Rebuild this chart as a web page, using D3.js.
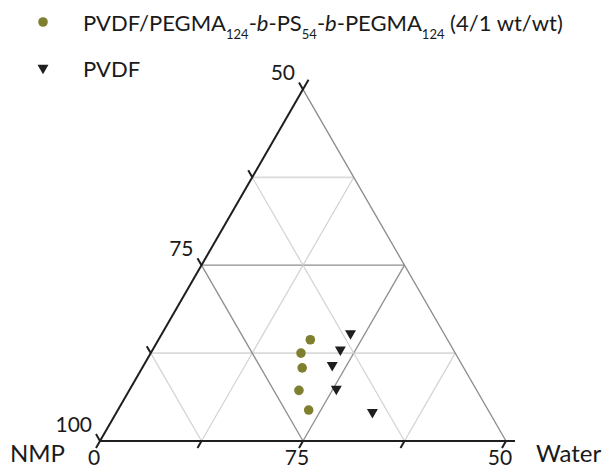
<!DOCTYPE html>
<html>
<head>
<meta charset="utf-8">
<script src="https://cdn.jsdelivr.net/npm/d3@7"></script>
<style>
  html, body { margin: 0; padding: 0; background: #fff; }
  svg { display: block; font-family: Lato, "Open Sans", sans-serif; }
</style>
</head>
<body>
<svg id="chart" width="604" height="470"></svg>
<script>
// Composition points (wt%): polymer fraction and water fraction; NMP = 100 - polymer - water
const blendPolymer = [14.4, 12.5, 10.4, 7.2, 4.4];
const blendWater   = [18.7, 18.5, 19.7, 20.9, 23.5];
const pvdfPolymer  = [15.3, 13.0, 10.8, 7.4, 4.1];
const pvdfWater    = [23.2, 23.1, 23.2, 25.4, 31.5];

const gridLevels = [12.5, 25, 37.5];
const axisTicks  = [0, 12.5, 25, 37.5, 50];
const leftTickLabels   = [{ v: 0, t: "100" }, { v: 25, t: "75" }, { v: 50, t: "50" }];
const bottomTickLabels = [{ v: 0, t: "0" }, { v: 25, t: "75" }, { v: 50, t: "50" }];

const svg = d3.select("#chart");

// Triangle frame: bottom-left (pure NMP), bottom-right, apex
const x0 = 100, x1 = 506, yBase = 441;
const side = x1 - x0;
const h = side * Math.sqrt(3) / 2;

const wScale = d3.scaleLinear().domain([0, 50]).range([0, side]);      // along the base
const pScale = d3.scaleLinear().domain([0, 50]).range([0, h]);         // height

function pos(p, w) {
  return [x0 + wScale(w) + pScale(p) / Math.sqrt(3), yBase - pScale(p)];
}

const line = d3.line();

// Grid lines parallel to each edge
const g = svg.append("g");
gridLevels.forEach(k => {
  const mid = k === 25;
  const col = mid ? "#8e8e8e" : "#d2d2d2";
  const sw = mid ? 1.3 : 1.2;
  // constant polymer (horizontal)
  g.append("path").attr("d", line([pos(k, 0), pos(k, 50 - k)]))
    .attr("stroke", mid ? "#8e8e8e" : "#dadada").attr("stroke-width", mid ? 1.3 : 1.8).attr("fill", "none");
  // constant water
  g.append("path").attr("d", line([pos(0, k), pos(50 - k, k)]))
    .attr("stroke", col).attr("stroke-width", sw).attr("fill", "none");
  // constant polymer + water
  g.append("path").attr("d", line([pos(0, k), pos(k, 0)]))
    .attr("stroke", col).attr("stroke-width", sw).attr("fill", "none");
});

// Right edge
g.append("path").attr("d", line([pos(50, 0), pos(0, 50)]))
  .attr("stroke", "#8a8a8a").attr("stroke-width", 1.3).attr("fill", "none");

// Axis lines (extend a little beyond the far vertex)
const ext = 11;
const c60 = Math.cos(Math.PI / 3), s60 = Math.sin(Math.PI / 3);
const apex = pos(50, 0);
g.append("path")
  .attr("d", line([pos(0, 0), [apex[0] + ext * c60, apex[1] - ext * s60]]))
  .attr("stroke", "#1e1e1e").attr("stroke-width", 2).attr("fill", "none");
g.append("path")
  .attr("d", line([pos(0, 0), [pos(0, 50)[0] + 9, yBase]]))
  .attr("stroke", "#1e1e1e").attr("stroke-width", 2).attr("fill", "none");

// Ticks
const tl = 8;
axisTicks.forEach(v => {
  const b = pos(0, v);
  g.append("path").attr("d", line([b, [b[0] - tl * c60, b[1] + tl * s60]]))
    .attr("stroke", "#1e1e1e").attr("stroke-width", 2);
  const l = pos(v, 0);
  g.append("path").attr("d", line([l, [l[0] - tl * c60, l[1] - tl * s60]]))
    .attr("stroke", "#1e1e1e").attr("stroke-width", 2);
});

// Tick labels
const tickFont = 21;
leftTickLabels.forEach(d => {
  const l = pos(d.v, 0);
  svg.append("text").attr("x", l[0] - 8).attr("y", l[1] - 9)
    .attr("text-anchor", "end").attr("font-size", tickFont).attr("fill", "#1a1a1a").text(d.t);
});
bottomTickLabels.forEach(d => {
  const b = pos(0, d.v);
  svg.append("text").attr("x", b[0] - 6).attr("y", b[1] + 24)
    .attr("text-anchor", "middle").attr("font-size", tickFont).attr("fill", "#1a1a1a").text(d.t);
});

// Vertex names
svg.append("text").attr("x", 10).attr("y", 462).attr("font-size", 24).attr("fill", "#1a1a1a").text("NMP");
svg.append("text").attr("x", 536).attr("y", 462).attr("font-size", 24).attr("fill", "#1a1a1a").text("Water");

// Data marks
const olive = "#7f7f30";
const blend = blendPolymer.map((p, i) => pos(p, blendWater[i]));
svg.append("g").selectAll("circle").data(blend).join("circle")
  .attr("cx", d => d[0]).attr("cy", d => d[1]).attr("r", 4.8).attr("fill", olive);

const tri = d3.symbol().type(d3.symbolTriangle).size(52);
const pvdf = pvdfPolymer.map((p, i) => pos(p, pvdfWater[i]));
svg.append("g").selectAll("path").data(pvdf).join("path")
  .attr("d", tri)
  .attr("transform", d => `translate(${d[0]},${d[1]}) rotate(180)`)
  .attr("fill", "#1e1e1e");

// Legend
const lg = svg.append("g").attr("fill", "#1a1a1a");
lg.append("circle").attr("cx", 43).attr("cy", 22).attr("r", 4.8).attr("fill", olive);
lg.append("path").attr("d", tri).attr("transform", "translate(43,68) rotate(180)").attr("fill", "#1e1e1e");

const legendFont = 22;
const t1 = lg.append("text").attr("x", 83).attr("y", 31).attr("font-size", legendFont);
const parts = [
  { t: "PVDF/PEGMA" }, { t: "124", sub: true }, { t: "-" }, { t: "b", it: true },
  { t: "-PS" }, { t: "54", sub: true }, { t: "-" }, { t: "b", it: true },
  { t: "-PEGMA" }, { t: "124", sub: true }, { t: " (4/1 wt/wt)" }
];
let prevSub = false;
parts.forEach(p => {
  const ts = t1.append("tspan").text(p.t);
  if (p.sub) { ts.attr("font-size", 13).attr("dy", prevSub ? 0 : 8); }
  else if (prevSub) { ts.attr("dy", -8); }
  if (p.it) ts.attr("font-style", "italic");
  prevSub = !!p.sub;
});
lg.append("text").attr("x", 83).attr("y", 77).attr("font-size", legendFont).text("PVDF");
</script>
</body>
</html>
